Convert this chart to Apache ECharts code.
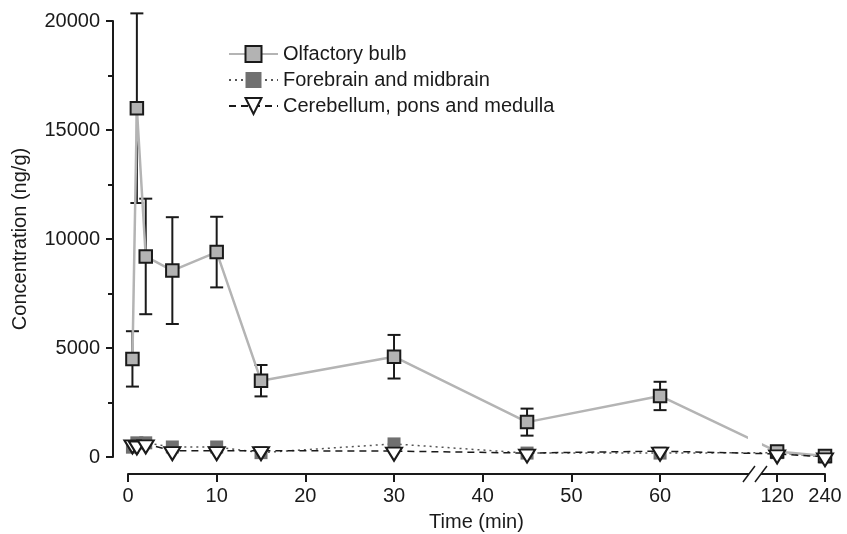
<!DOCTYPE html>
<html>
<head>
<meta charset="utf-8">
<script src="https://cdn.jsdelivr.net/npm/echarts@6/dist/echarts.min.js"></script>
<style>
    html, body { margin: 0; padding: 0; background: #ffffff; }
    #chart { width: 847px; height: 534px; }
</style>
</head>
<body>
<div id="chart"></div>
<script>
// sampling times (min)
const times = [0.5, 1, 2, 5, 10, 15, 30, 45, 60, 120, 240]
const tickTimes = [0, 10, 20, 30, 40, 50, 60, 120, 240]

// concentration (ng/g)
const olfactory = [4500, 16000, 9200, 8550, 9400, 3500, 4600, 1600, 2800, 250, 50]
const olfactorySd = [1270, 4350, 2650, 2450, 1620, 720, 1000, 620, 650, 0, 0]
const forebrain = [450, 650, 650, 460, 460, 200, 600, 180, 180, 200, 0]
const cerebellum = [600, 550, 600, 290, 290, 290, 270, 180, 270, 140, 10]

// broken time axis: after 60 min the axis jumps to 120 and 240
const BROKEN = { 120: 73.2, 240: 78.6 }
const BREAK_AT = 70.7
const X_OFFSET = 17

function axisPos(t) {
    return t in BROKEN ? BROKEN[t] : t
}

const tickPos = tickTimes.map(axisPos)
const ink = '#1a1a1a'
const font = 'Liberation Sans, Arial, sans-serif'

function pairs(values) {
    return times.map((t, i) => [axisPos(t), values[i]])
}

const errorData = times
    .map((t, i) => [axisPos(t), olfactory[i] - olfactorySd[i], olfactory[i] + olfactorySd[i], olfactorySd[i]])
    .filter(d => d[3] > 0)

const chart = echarts.init(document.getElementById('chart'))

const option = {
    animation: false,
    textStyle: { fontFamily: font, color: ink },
    grid: {
        left: 128,
        right: 22,
        top: 21,
        bottom: 77,
        outerBoundsMode: 'none'
    },
    legend: {
        orient: 'vertical',
        left: 223,
        top: 39,
        itemWidth: 49,
        itemHeight: 20,
        itemGap: 6,
        textStyle: { fontSize: 20, color: ink, fontFamily: font },
        data: ['Olfactory bulb', 'Forebrain and midbrain', 'Cerebellum, pons and medulla']
    },
    xAxis: {
        type: 'value',
        min: 0,
        max: 78.6,
        offset: X_OFFSET,
        name: 'Time (min)',
        nameLocation: 'middle',
        nameGap: 38,
        nameTextStyle: { fontSize: 20, color: ink, fontFamily: font },
        splitLine: { show: false },
        axisLine: { show: true, onZero: false, lineStyle: { color: ink, width: 2 } },
        axisTick: {
            show: true,
            length: 8,
            customValues: tickPos,
            lineStyle: { color: ink, width: 2 }
        },
        axisLabel: {
            fontSize: 20,
            color: ink,
            margin: 12,
            customValues: tickPos,
            formatter: v => {
                const i = tickPos.findIndex(p => Math.abs(p - v) < 1e-6)
                return i >= 0 ? String(tickTimes[i]) : ''
            }
        }
    },
    yAxis: {
        type: 'value',
        min: 0,
        max: 20000,
        interval: 5000,
        offset: 15,
        name: 'Concentration (ng/g)',
        nameLocation: 'middle',
        nameGap: 83,
        nameTextStyle: { fontSize: 20, color: ink, fontFamily: font },
        splitLine: { show: false },
        axisLine: { show: true, onZero: false, lineStyle: { color: ink, width: 2 } },
        axisTick: { show: true, length: 7, lineStyle: { color: ink, width: 2 } },
        minorTick: { show: true, splitNumber: 2, length: 5, lineStyle: { color: ink, width: 2 } },
        axisLabel: { fontSize: 20, color: ink, margin: 13, formatter: v => String(v) }
    },
    series: [
        {
            name: 'Forebrain and midbrain',
            type: 'line',
            z: 2,
            data: pairs(forebrain),
            symbol: 'rect',
            symbolSize: 13,
            lineStyle: { color: '#555555', width: 1.5, type: [2, 4] },
            itemStyle: { color: '#707070', borderWidth: 0 }
        },
        {
            name: 'errors',
            type: 'custom',
            z: 3,
            clip: false,
            data: errorData,
            encode: { x: 0, y: [1, 2] },
            renderItem(params, api) {
                const lo = api.coord([api.value(0), api.value(1)])
                const hi = api.coord([api.value(0), api.value(2)])
                const cap = 6.5
                const style = { stroke: ink, lineWidth: 2 }
                return {
                    type: 'group',
                    children: [
                        { type: 'line', shape: { x1: lo[0], y1: lo[1], x2: hi[0], y2: hi[1] }, style },
                        { type: 'line', shape: { x1: lo[0] - cap, y1: lo[1], x2: lo[0] + cap, y2: lo[1] }, style },
                        { type: 'line', shape: { x1: hi[0] - cap, y1: hi[1], x2: hi[0] + cap, y2: hi[1] }, style }
                    ]
                }
            }
        },
        {
            name: 'Olfactory bulb',
            type: 'line',
            z: 4,
            data: pairs(olfactory),
            symbol: 'rect',
            symbolSize: 12.5,
            lineStyle: { color: '#b4b4b4', width: 2.5 },
            itemStyle: { color: '#b3b3b3', borderColor: ink, borderWidth: 2 }
        },
        {
            name: 'break',
            type: 'custom',
            z: 5,
            clip: false,
            silent: true,
            data: [[BREAK_AT]],
            renderItem(params, api) {
                const base = api.coord([api.value(0), 0])
                const top = api.coord([api.value(0), 1500])
                const low = api.coord([api.value(0), 420])
                const c = base[0]
                const y = base[1] + X_OFFSET
                const slash = { stroke: ink, lineWidth: 1.5 }
                return {
                    type: 'group',
                    children: [
                        { type: 'rect', shape: { x: c - 7, y: top[1], width: 14, height: low[1] - top[1] }, style: { fill: '#ffffff' } },
                        { type: 'rect', shape: { x: c - 6, y: y - 3, width: 12, height: 6 }, style: { fill: '#ffffff' } },
                        { type: 'line', shape: { x1: c - 12, y1: y + 8, x2: c, y2: y - 8 }, style: slash },
                        { type: 'line', shape: { x1: c, y1: y + 8, x2: c + 12, y2: y - 8 }, style: slash }
                    ]
                }
            }
        },
        {
            name: 'Cerebellum, pons and medulla',
            type: 'line',
            z: 6,
            data: pairs(cerebellum),
            symbol: 'path://M0,0L20,0L10,17Z',
            symbolSize: [16, 13],
            symbolOffset: [0, 3],
            lineStyle: { color: ink, width: 1.5, type: [7, 5] },
            itemStyle: { color: '#ffffff', borderColor: ink, borderWidth: 2 }
        }
    ]
}

chart.setOption(option)
</script>
</body>
</html>
